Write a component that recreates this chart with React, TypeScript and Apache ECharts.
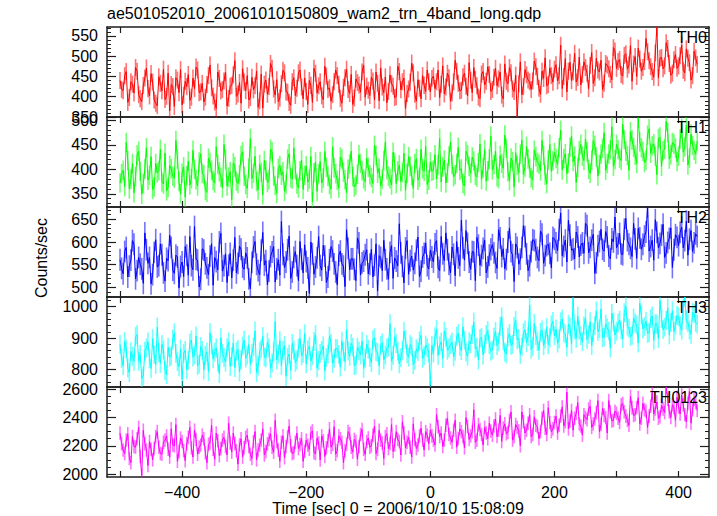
import React, { useEffect, useRef } from "react";
import * as echarts from "echarts";

// Time grid (seconds from 2006/10/10 15:08:09): main samples every 5 s from -500,
// mid samples halfway between them.
const T_START = -500;
const T_STEP = 5;

const TITLE = "ae501052010_20061010150809_wam2_trn_4band_long.qdp";
const X_TITLE = "Time [sec] 0 = 2006/10/10 15:08:09";
const Y_TITLE = "Counts/sec";

const th0 = [
  440, 415, 462, 398, 431, 472, 405, 388, 446, 420, 457, 392, 378, 433, 468, 401, 365, 425, 447, 410,
  380, 438, 455, 399, 420, 466, 412, 387, 430, 478, 402, 371, 445, 418, 460, 396, 428, 489, 407, 384,
  436, 452, 398, 417, 463, 390, 372, 441, 425, 470, 404, 388, 432, 459, 411, 379, 447, 421, 466, 395,
  413, 440, 386, 458, 427, 402, 475, 418, 389, 437, 452, 396, 423, 468, 408, 381, 444, 429, 461, 399,
  416, 448, 392, 433, 471, 410, 385, 454, 426, 400, 462, 437, 371, 419, 483, 406, 442, 395, 428, 466,
  412, 451, 437, 398, 476, 424, 447, 409, 490, 433, 416, 458, 402, 441, 472, 427, 395, 462, 438, 455,
  418, 470, 444, 404, 481, 432, 459, 413, 351, 486, 425, 454, 437, 439, 474, 421, 463, 496, 430, 452,
  468, 439, 527, 450, 412, 485, 461, 436, 498, 455, 472, 420, 509, 447, 466, 490, 433, 478, 455, 521,
  470, 492, 451, 506, 478, 438, 499, 520, 463, 487, 511, 474, 448, 571, 495, 469, 533, 482, 458, 504,
  476, 528, 459, 495, 441, 512, 480,
];
const th0Mid = [
  418, 452, 386, 437, 409, 463, 395, 428, 471, 402, 436, 384, 449, 415, 393, 458, 430, 376, 441, 467,
  404, 425, 391, 446, 473, 410, 433, 399, 452, 422, 387, 461, 414, 439, 377, 426, 454, 401, 435, 469,
  415, 392, 448, 427, 374, 456, 431, 406, 482, 419, 442, 397, 465, 412, 386, 437, 403, 459, 424, 446,
  381, 428, 470, 409, 437, 393, 451, 422, 405, 466, 431, 384, 447, 418, 455, 397, 435, 411, 478, 426,
  403, 439, 461, 390, 424, 449, 413, 432, 398, 475, 417, 446, 408, 436, 459, 389, 421, 452, 413, 437,
  445, 420, 466, 431, 407, 458, 389, 437, 463, 415, 449, 426, 484, 410, 443, 399, 456, 429, 474, 413,
  448, 427, 461, 395, 438, 472, 419, 453, 432, 405, 467, 441, 418, 488, 450, 406, 445, 427, 471, 436,
  479, 452, 420, 494, 463, 440, 507, 447, 429, 486, 458, 477, 433, 495, 461, 418, 482, 469, 442, 513,
  487, 455, 502, 468, 526, 481, 450, 493, 472, 544, 489, 462, 508, 447, 497, 476, 519, 453, 491, 470,
  501, 465, 518, 484, 452, 496,
];

const th1 = [
  372, 398, 455, 360, 412, 385, 437, 349, 401, 378, 426, 364, 393, 441, 370, 356, 408, 386, 459, 375,
  392, 343, 417, 381, 400, 366, 432, 389, 353, 414, 377, 446, 395, 362, 420, 384, 338, 405, 371, 428,
  386, 361, 463, 392, 375, 410, 348, 398, 379, 436, 367, 402, 388, 355, 421, 383, 444, 370, 397, 359,
  407, 380, 333, 415, 391, 372, 437, 386, 360, 403, 378, 425, 394, 352, 411, 385, 368, 430, 397, 375,
  404, 383, 449, 392, 366, 418, 399, 381, 435, 371, 409, 393, 357, 426, 387, 412, 378, 441, 396, 369,
  415, 398, 380, 463, 405, 372, 427, 410, 389, 445, 401, 366, 430, 392, 417, 384, 452, 403, 376, 421,
  399, 437, 381, 412, 470, 395, 423, 364, 408, 431, 390, 447, 402, 378, 426, 411, 459, 388, 419, 396,
  434, 410, 480, 422, 391, 445, 416, 373, 438, 427, 462, 400, 419, 449, 386, 431, 475, 412, 440, 406,
  451, 423, 492, 437, 398, 460, 429, 505, 444, 414, 470, 433, 452, 389, 466, 438, 498, 421, 455, 443,
  427, 484, 446, 409, 472, 439, 458,
];
const th1Mid = [
  391, 365, 418, 380, 352, 429, 396, 371, 444, 388, 359, 412, 397, 374, 433, 363, 401, 382, 421, 350,
  405, 387, 368, 439, 379, 415, 392, 357, 423, 398, 372, 410, 384, 451, 366, 395, 413, 376, 389, 436,
  369, 402, 381, 427, 358, 394, 418, 373, 441, 386, 351, 408, 395, 370, 432, 380, 399, 362, 419, 388,
  374, 426, 393, 355, 416, 382, 404, 369, 446, 391, 362, 421, 379, 400, 437, 364, 390, 412, 381, 423,
  389, 371, 428, 402, 380, 456, 386, 368, 414, 397, 375, 433, 392, 406, 361, 422, 384, 401, 447, 378,
  396, 430, 409, 374, 419, 393, 456, 385, 412, 398, 371, 437, 406, 425, 388, 414, 379, 440, 397, 468,
  410, 385, 428, 402, 443, 377, 416, 434, 393, 460, 405, 421, 383, 439, 414, 397, 428, 371, 451, 417,
  422, 444, 399, 432, 413, 468, 427, 404, 451, 418, 436, 392, 459, 425, 410, 443, 398, 431, 487, 420,
  440, 418, 461, 428, 477, 445, 412, 456, 437, 419, 483, 448, 427, 463, 406, 441, 475, 430, 452, 416,
  462, 435, 490, 423, 449, 431,
];

const th2 = [
  561, 530, 588, 547, 603, 519, 566, 541, 620, 553, 508, 577, 545, 596, 532, 564, 615, 538, 571, 499,
  556, 590, 527, 548, 634, 560, 518, 582, 543, 569, 505, 557, 600, 536, 574, 549, 521, 610, 553, 584,
  540, 565, 497, 589, 551, 528, 621, 559, 536, 578, 512, 561, 645, 544, 583, 520, 566, 548, 601, 532,
  557, 487, 574, 545, 612, 538, 569, 523, 590, 552, 506, 580, 547, 627, 539, 563, 515, 598, 554, 572,
  530, 584, 549, 492, 566, 604, 541, 577, 520, 558, 640, 546, 587, 529, 569, 553, 611, 536, 575, 548,
  582, 556, 603, 537, 574, 620, 551, 589, 526, 565, 648, 560, 597, 540, 578, 610, 549, 586, 532, 571,
  594, 555, 627, 568, 541, 600, 579, 513, 588, 562, 636, 574, 548, 605, 583, 559, 617, 570, 595, 543,
  606, 581, 664, 590, 556, 615, 585, 622, 567, 598, 641, 576, 604, 531, 592, 628, 580, 611, 563, 600,
  587, 619, 572, 652, 595, 568, 607, 630, 584, 613, 677, 590, 560, 621, 597, 639, 576, 608, 544, 616,
  592, 633, 603, 571, 625, 598, 612,
];
const th2Mid = [
  542, 579, 523, 560, 595, 537, 551, 509, 583, 566, 528, 605, 548, 572, 514, 559, 588, 531, 567, 546,
  524, 571, 612, 539, 562, 501, 585, 552, 528, 596, 566, 539, 619, 548, 511, 575, 560, 532, 591, 545,
  576, 519, 555, 601, 537, 582, 549, 506, 568, 590, 541, 527, 573, 556, 613, 534, 579, 515, 562, 594,
  543, 600, 529, 565, 548, 593, 511, 561, 580, 534, 571, 552, 502, 586, 563, 540, 609, 527, 558, 583,
  551, 523, 596, 570, 537, 561, 518, 592, 565, 547, 576, 510, 603, 559, 538, 582, 524, 567, 598, 541,
  567, 596, 544, 612, 559, 583, 532, 573, 601, 548, 587, 625, 556, 579, 515, 593, 570, 604, 545, 584,
  576, 542, 609, 585, 561, 631, 572, 596, 551, 588, 612, 537, 579, 603, 566, 624, 553, 592, 575, 610,
  598, 627, 570, 604, 648, 582, 563, 611, 593, 575, 636, 588, 617, 554, 601, 584, 623, 569, 607, 655,
  596, 574, 628, 603, 586, 641, 564, 609, 595, 622, 580, 604, 649, 587, 615, 566, 599, 631, 583, 610,
  621, 587, 646, 606, 579, 618,
];

const th3 = [
  880, 812, 865, 790, 842, 905, 826, 771, 858, 888, 803, 847, 935, 819, 862, 783, 839, 897, 851, 808,
  768, 861, 829, 894, 846, 812, 873, 798, 856, 917, 834, 869, 787, 851, 823, 888, 841, 806, 864, 831,
  893, 845, 816, 872, 790, 858, 905, 837, 868, 821, 953, 849, 812, 876, 839, 797, 862, 830, 899, 851,
  818, 874, 843, 911, 828, 861, 795, 849, 883, 835, 866, 807, 856, 927, 842, 871, 814, 859, 890, 836,
  864, 822, 901, 853, 877, 831, 868, 946, 845, 882, 818, 861, 895, 839, 873, 829, 857, 909, 844, 869,
  751, 852, 928, 876, 835, 903, 869, 887, 858, 915, 860, 893, 842, 882, 951, 871, 899, 846, 912, 879,
  862, 921, 888, 968, 855, 903, 877, 937, 894, 848, 917, 886, 1005, 873, 908, 861, 926, 897, 879, 942,
  907, 884, 952, 918, 871, 936, 1028, 899, 925, 888, 964, 912, 876, 940, 921, 993, 903, 933, 868, 951,
  922, 957, 898, 1002, 931, 909, 948, 884, 973, 937, 915, 962, 893, 945, 1020, 927, 956, 910, 987, 941,
  968, 925, 1031, 949, 912, 978, 944,
];
const th3Mid = [
  835, 889, 804, 857, 826, 911, 848, 779, 869, 834, 898, 816, 854, 880, 796, 871, 843, 917, 825, 866,
  852, 799, 884, 839, 907, 817, 861, 845, 793, 878, 855, 823, 901, 838, 869, 810, 884, 857, 792, 875,
  836, 879, 852, 923, 811, 866, 840, 887, 803, 857, 830, 892, 861, 778, 849, 883, 822, 868, 843, 914,
  862, 827, 889, 804, 852, 875, 838, 906, 819, 867, 848, 890, 825, 859, 883, 812, 871, 846, 803, 880,
  838, 895, 857, 812, 885, 846, 871, 826, 904, 858, 837, 922, 850, 879, 815, 866, 891, 835, 878, 853,
  876, 904, 845, 888, 922, 861, 879, 840, 906, 873, 936, 855, 889, 912, 867, 830, 902, 881, 924, 858,
  903, 876, 938, 891, 849, 915, 880, 957, 899, 872, 926, 905, 864, 947, 889, 918, 876, 934, 901, 953,
  929, 897, 961, 913, 944, 881, 926, 970, 908, 939, 895, 952, 918, 987, 930, 901, 945, 923, 979, 910,
  948, 926, 981, 938, 905, 964, 942, 1011, 929, 954, 917, 971, 946, 899, 962, 935, 996, 950, 921, 972,
  939, 995, 957, 926, 983, 950,
];

const th0123 = [
  2290, 2170, 2240, 2110, 2265, 2190, 2330, 1990, 2215, 2060, 2175, 2180, 2300, 2145, 2225, 2270, 2120, 2205, 2350, 2160,
  2230, 2095, 2260, 2185, 2310, 2140, 2205, 2250, 2080, 2220, 2175, 2290, 2130, 2240, 2195, 2360, 2155, 2215, 2070, 2250,
  2185, 2275, 2140, 2230, 2100, 2205, 2320, 2160, 2245, 2190, 2380, 2170, 2225, 2115, 2265, 2200, 2150, 2290, 2210, 2090,
  2240, 2175, 2305, 2145, 2220, 2270, 2125, 2235, 2190, 2335, 2165, 2250, 2080, 2210, 2285, 2155, 2230, 2195, 2315, 2140,
  2255, 2200, 2340, 2175, 2240, 2110, 2285, 2215, 2160, 2300, 2230, 2370, 2185, 2260, 2120, 2245, 2205, 2325, 2170, 2275,
  2310, 2240, 2420, 2265, 2195, 2345, 2280, 2225, 2380, 2250, 2300, 2185, 2335, 2270, 2455, 2240, 2315, 2205, 2290, 2360,
  2275, 2390, 2310, 2230, 2355, 2295, 2440, 2265, 2330, 2200, 2370, 2310, 2420, 2280, 2345, 2250, 2395, 2325, 2470, 2300,
  2365, 2290, 2410, 2340, 2580, 2375, 2310, 2430, 2355, 2275, 2400, 2460, 2330, 2390, 2520, 2350, 2415, 2290, 2440, 2380,
  2430, 2365, 2500, 2410, 2345, 2470, 2420, 2540, 2395, 2455, 2330, 2480, 2425, 2510, 2405, 2460, 2616, 2440, 2490, 2380,
  2475, 2560, 2420, 2500, 2360, 2530, 2450,
];
const th0123Mid = [
  2215, 2145, 2285, 2080, 2195, 2250, 2125, 2310, 2170, 2230, 2100, 2265, 2190, 2140, 2240, 2175, 2320, 2200, 2090, 2255,
  2165, 2215, 2330, 2120, 2245, 2190, 2275, 2150, 2210, 2345, 2105, 2235, 2180, 2260, 2135, 2220, 2290, 2165, 2205, 2120,
  2260, 2195, 2110, 2300, 2170, 2240, 2135, 2215, 2285, 2155, 2230, 2090, 2270, 2195, 2340, 2145, 2225, 2180, 2250, 2160,
  2205, 2290, 2150, 2255, 2100, 2235, 2185, 2320, 2210, 2140, 2270, 2225, 2165, 2300, 2190, 2245, 2105, 2280, 2175, 2230,
  2190, 2275, 2145, 2310, 2220, 2265, 2180, 2350, 2205, 2245, 2135, 2290, 2225, 2190, 2355, 2180, 2270, 2240, 2300, 2215,
  2270, 2205, 2335, 2290, 2240, 2395, 2255, 2310, 2190, 2320, 2265, 2400, 2245, 2300, 2225, 2350, 2280, 2330, 2250, 2305,
  2340, 2265, 2415, 2325, 2285, 2380, 2240, 2350, 2305, 2440, 2290, 2360, 2265, 2405, 2335, 2300, 2450, 2280, 2365, 2320,
  2410, 2345, 2475, 2370, 2320, 2450, 2395, 2505, 2340, 2420, 2385, 2480, 2355, 2435, 2300, 2465, 2400, 2520, 2375, 2445,
  2395, 2490, 2440, 2380, 2550, 2415, 2470, 2355, 2500, 2445, 2410, 2575, 2460, 2395, 2485, 2435, 2530, 2400, 2470, 2545,
  2425, 2490, 2370, 2585, 2455, 2505,
];

// 1-sigma error bar half-lengths per band
const errors = [21, 20, 24, 30, 48];
const bandNames = ["TH0", "TH1", "TH2", "TH3", "TH0123"];
const bandColors = ["#ff0000", "#00ff00", "#0000ff", "#00ffff", "#ff00ff"];
const bandMain = [th0, th1, th2, th3, th0123];
const bandMid = [th0Mid, th1Mid, th2Mid, th3Mid, th0123Mid];

// axis ranges and ticks
const yMins = [350, 323, 479, 744, 1979];
const yMaxs = [572, 507, 677, 1031, 2616];
const yMajorTicks = [
  [350, 400, 450, 500, 550],
  [350, 400, 450, 500],
  [500, 550, 600, 650],
  [800, 900, 1000],
  [2000, 2200, 2400, 2600],
];
const yMinorSteps = [10, 10, 10, 20, 50];
const xMin = -521;
const xMax = 449;
const xMajorTicks = [-500, -400, -300, -200, -100, 0, 100, 200, 300, 400];
const xLabelTicks = [-400, -200, 0, 200, 400];

const FONT = "Liberation Sans, Arial, Helvetica, sans-serif";

function stepsBetween(lo: number, hi: number, step: number) {
  const out: number[] = [];
  const start = Math.ceil(lo / step) * step;
  for (let v = start; v <= hi; v += step) out.push(v);
  return out;
}

// interleave main samples (t = T_START + i*T_STEP) with mid samples (t + T_STEP/2)
function buildPoints(main: number[], mid: number[]) {
  const pts: [number, number][] = [];
  for (let i = 0; i < main.length; i++) {
    pts.push([T_START + i * T_STEP, main[i]]);
    if (i < mid.length) pts.push([T_START + i * T_STEP + T_STEP / 2, mid[i]]);
  }
  return pts;
}

export default function App() {
  const ref = useRef<HTMLDivElement>(null);

  useEffect(() => {
    if (!ref.current) return;
    const chart = echarts.init(ref.current, undefined, { renderer: "svg" });

    const GRID_LEFT = 107;
    const GRID_WIDTH = 602;
    const GRID_TOP = 27;
    const GRID_H = 90;
    const axisColor = "#1e1e1e";
    const n = bandMain.length;

    const grids: any[] = [];
    const xAxes: any[] = [];
    const yAxes: any[] = [];
    const series: any[] = [];
    const graphics: any[] = [];

    for (let p = 0; p < n; p++) {
      grids.push({ left: GRID_LEFT, width: GRID_WIDTH, top: GRID_TOP + p * GRID_H, height: GRID_H });
      const isLast = p === n - 1;
      const xBase = {
        type: "value",
        gridIndex: p,
        min: xMin,
        max: xMax,
        splitLine: { show: false },
        axisLine: { show: true, onZero: false, lineStyle: { color: axisColor, width: 1.5 } },
        axisTick: { show: true, inside: true, length: 6, customValues: xMajorTicks, lineStyle: { color: axisColor, width: 1.2 } },
      };
      xAxes.push({
        ...xBase,
        position: "bottom",
        axisLabel: {
          show: isLast,
          customValues: xLabelTicks,
          margin: 7,
          color: "#000",
          fontSize: 16,
          fontFamily: FONT,
          formatter: (v: number) => (v < 0 ? "\u2212" + Math.abs(v) : String(v)),
        },
      });
      xAxes.push({ ...xBase, position: "top", axisLabel: { show: false } });

      const minor = stepsBetween(yMins[p], yMaxs[p], yMinorSteps[p]);
      const yBase = {
        type: "value",
        gridIndex: p,
        min: yMins[p],
        max: yMaxs[p],
        splitLine: { show: false },
      };
      const yStart = yAxes.length;
      yAxes.push({
        ...yBase,
        position: "left",
        axisLine: { show: true, onZero: false, lineStyle: { color: axisColor, width: 1.5 } },
        axisTick: { show: true, inside: true, length: 9, customValues: yMajorTicks[p], lineStyle: { color: axisColor, width: 1.2 } },
        axisLabel: {
          show: true,
          customValues: yMajorTicks[p],
          showMinLabel: true,
          showMaxLabel: true,
          margin: 9,
          color: "#000",
          fontSize: 16,
          fontFamily: FONT,
          formatter: (v: number) => String(v),
        },
      });
      yAxes.push({
        ...yBase,
        position: "left",
        axisLine: { show: false, onZero: false },
        axisTick: { show: true, inside: true, length: 4, customValues: minor, lineStyle: { color: axisColor, width: 1 } },
        axisLabel: { show: false },
      });
      yAxes.push({
        ...yBase,
        position: "right",
        axisLine: { show: true, onZero: false, lineStyle: { color: axisColor, width: 1.5 } },
        axisTick: { show: true, inside: true, length: 9, customValues: yMajorTicks[p], lineStyle: { color: axisColor, width: 1.2 } },
        axisLabel: { show: false },
      });
      yAxes.push({
        ...yBase,
        position: "right",
        axisLine: { show: false, onZero: false },
        axisTick: { show: true, inside: true, length: 4, customValues: minor, lineStyle: { color: axisColor, width: 1 } },
        axisLabel: { show: false },
      });

      const err = errors[p];
      const color = bandColors[p];
      const lineData = buildPoints(bandMain[p], bandMid[p]);
      const errData = lineData.map(([t, v]) => [t, v - err, v + err]);

      series.push({
        type: "custom",
        name: bandNames[p] + " err",
        xAxisIndex: p * 2,
        yAxisIndex: yStart,
        clip: true,
        z: 1,
        encode: { x: 0, y: [1, 2] },
        data: errData,
        renderItem: (params: any, api: any) => {
          const x = api.value(0);
          const a = api.coord([x, api.value(1)]);
          const b = api.coord([x, api.value(2)]);
          return {
            type: "line",
            shape: { x1: a[0], y1: a[1], x2: b[0], y2: b[1] },
            style: { stroke: color, lineWidth: 1.6, opacity: 0.55 },
          };
        },
      });
      series.push({
        type: "line",
        name: bandNames[p],
        xAxisIndex: p * 2,
        yAxisIndex: yStart,
        data: lineData,
        showSymbol: false,
        symbol: "none",
        clip: true,
        z: 2,
        lineStyle: { color, width: 1 },
        itemStyle: { color },
      });

      graphics.push({
        type: "text",
        right: 10,
        top: GRID_TOP + p * GRID_H + 2,
        z: 100,
        style: { text: bandNames[p], fill: "#000", font: `16px ${FONT}` },
      });
    }

    graphics.push({
      type: "text",
      left: GRID_LEFT,
      top: 5,
      style: { text: TITLE, fill: "#000", font: `16px ${FONT}` },
    });
    graphics.push({
      type: "text",
      x: 398,
      y: 508,
      style: { text: X_TITLE, fill: "#000", font: `16px ${FONT}`, textAlign: "center", textVerticalAlign: "middle" },
    });
    graphics.push({
      type: "text",
      x: 41,
      y: 258,
      rotation: Math.PI / 2,
      style: { text: Y_TITLE, fill: "#000", font: `16px ${FONT}`, textAlign: "center", textVerticalAlign: "middle" },
    });

    chart.setOption({
      animation: false,
      backgroundColor: "#ffffff",
      grid: grids,
      xAxis: xAxes,
      yAxis: yAxes,
      series,
      graphic: graphics,
    });

    return () => chart.dispose();
  }, []);

  return (
    <div
      ref={ref}
      style={{ position: "absolute", left: 0, top: 0, width: 717, height: 516, background: "#fff" }}
    />
  );
}
